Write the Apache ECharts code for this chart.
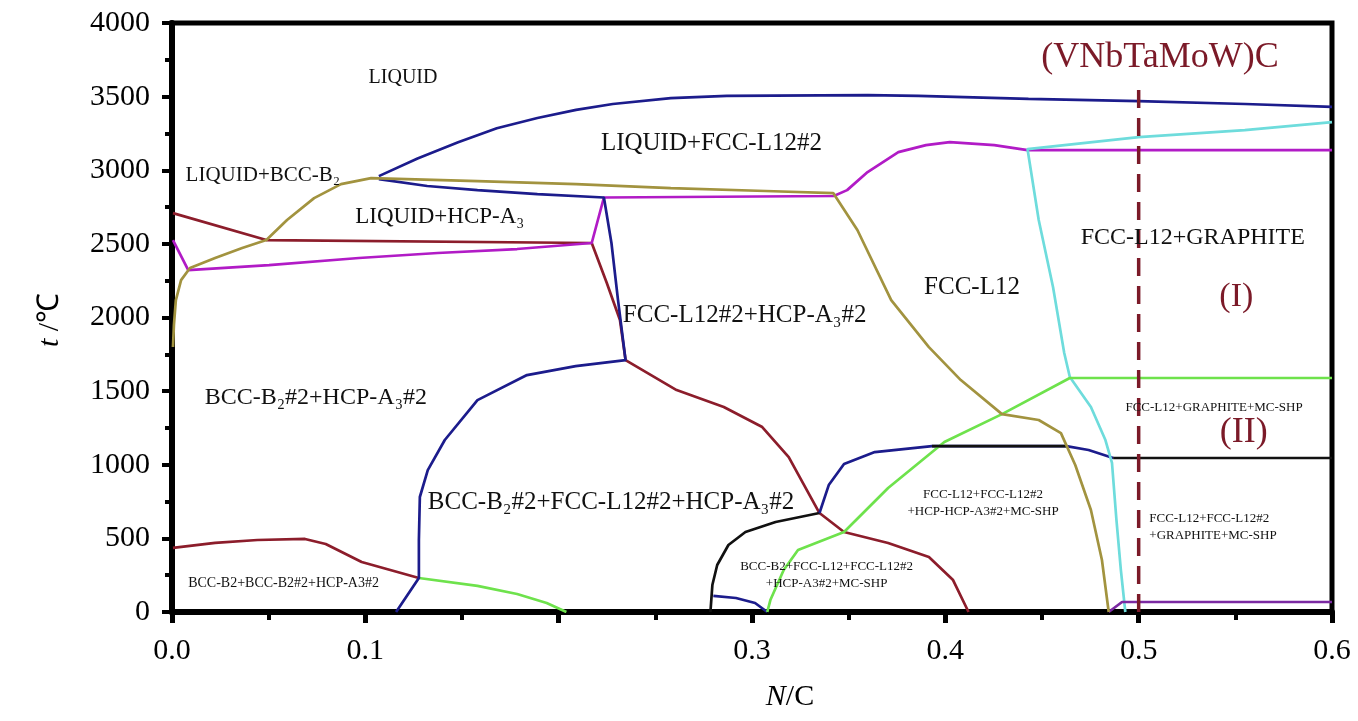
<!DOCTYPE html>
<html><head><meta charset="utf-8">
<script src="https://cdn.jsdelivr.net/npm/echarts@6/dist/echarts.min.js"></script>
<style>html,body{margin:0;padding:0;background:#fff}#c{width:1358px;height:721px}</style>
</head><body><div id="c"></div>
<script>
// ---- tick labels ----
const xTickLabels = ['0.0', '0.1', '', '0.3', '0.4', '0.5', '0.6'];
const yTickValues = [0, 500, 1000, 1500, 2000, 2500, 3000, 3500, 4000];

// ---- phase boundaries: [N/C, t(°C)] ----
const liquidusBlue = [[0.107,2960],[0.127,3080],[0.148,3190],[0.168,3285],[0.189,3355],[0.209,3410],[0.228,3450],[0.258,3490],[0.287,3505],[0.36,3510],[0.386,3505],[0.443,3485],[0.5,3470],[0.555,3450],[0.6,3430]];
const oliveLine = [[0.0005,1800],[0.001,1950],[0.002,2118],[0.0047,2254],[0.0093,2336],[0.0223,2404],[0.0363,2472],[0.0488,2526],[0.0595,2662],[0.0735,2811],[0.0874,2906],[0.103,2947],[0.158,2926],[0.209,2906],[0.258,2879],[0.307,2859],[0.342,2845],[0.3545,2594],[0.372,2118],[0.3915,1799],[0.408,1575],[0.4293,1344],[0.4483,1304],[0.4598,1215],[0.4672,998],[0.4753,693],[0.481,353],[0.4845,0]];
const blueArc = [[0.107,2940],[0.132,2893],[0.158,2865],[0.189,2838],[0.2234,2815],[0.2273,2506],[0.2307,2118],[0.2346,1711],[0.2088,1670],[0.1836,1609],[0.158,1439],[0.1411,1168],[0.1323,964],[0.1282,781],[0.1277,489],[0.1277,231],[0.1159,0]];
const magentaLine = [[0.0005,2526],[0.0084,2322],[0.0502,2356],[0.0967,2404],[0.1374,2438],[0.1785,2465],[0.2171,2506],[0.2234,2815],[0.3423,2825],[0.3492,2865],[0.3598,2988],[0.3757,3123],[0.39,3171],[0.4023,3191],[0.4253,3171],[0.4425,3137],[0.6,3137]];
const redUpper = [[0.0005,2709],[0.0488,2526],[0.2171,2506],[0.2249,2234],[0.2317,1983],[0.2346,1711],[0.261,1507],[0.2854,1392],[0.3053,1256],[0.319,1052],[0.3349,672],[0.3476,543],[0.3704,469],[0.3915,373],[0.404,217],[0.412,0]];
const redLower = [[0.0005,435],[0.0223,469],[0.0442,489],[0.0688,496],[0.0795,462],[0.0981,340],[0.1277,231]];
const greenLeft = [[0.1277,231],[0.158,177],[0.1785,122],[0.1938,61],[0.204,0]];
const blackBottom = [[0.2785,0],[0.2795,183],[0.282,319],[0.2878,455],[0.2966,543],[0.3122,611],[0.3349,672]];
const blueBottom = [[0.28,109],[0.2917,95],[0.3016,61],[0.3079,0]];
const greenMid = [[0.3079,0],[0.3095,81],[0.3164,285],[0.3238,421],[0.3476,543],[0.3704,842],[0.3995,1154],[0.4293,1344],[0.4644,1589],[0.6,1589]];
const blueRight = [[0.3349,672],[0.3397,862],[0.3476,1005],[0.3635,1086],[0.3931,1127],[0.4626,1127],[0.4741,1100],[0.4868,1046]];
const blackTie = [[0.3931,1127],[0.4626,1127]];
const blackRight = [[0.4868,1046],[0.6,1046]];
const cyanLine = [[0.6,3327],[0.5549,3273],[0.5,3225],[0.4425,3144],[0.4483,2662],[0.4557,2207],[0.4615,1759],[0.4644,1596],[0.4753,1392],[0.4828,1168],[0.4862,1012],[0.4885,625],[0.4908,285],[0.4931,0]];
const purpleLine = [[0.4845,0],[0.4914,68],[0.6,68]];
const compositionLine = [[0.5,0],[0.5,3590]];

// ---- region labels: text and anchor [N/C, t] ----
const regionTexts = ['LIQUID','LIQUID+BCC-B₂','LIQUID+FCC-L12#2','LIQUID+HCP-A₃','FCC-L12#2+HCP-A₃#2','FCC-L12','FCC-L12+GRAPHITE','(VNbTaMoW)C','(I)','(II)','FCC-L12+GRAPHITE+MC-SHP','BCC-B₂#2+HCP-A₃#2','BCC-B₂#2+FCC-L12#2+HCP-A₃#2','BCC-B2+BCC-B2#2+HCP-A3#2','BCC-B2+FCC-L12+FCC-L12#2\n+HCP-A3#2+MC-SHP','FCC-L12+FCC-L12#2\n+HCP-HCP-A3#2+MC-SHP','FCC-L12+FCC-L12#2\n+GRAPHITE+MC-SHP'];
const regionAnchors = [[0.1195,3626],[0.047,2967],[0.279,3185],[0.1385,2682],[0.2332,2017],[0.4138,2207],[0.528,2539],[0.511,3762],[0.5505,2139],[0.5544,1222],[0.539,1385],[0.0744,1453],[0.1323,747],[0.0577,197],[0.3386,251],[0.4195,740],[0.5055,577]];

// ---- styles (kept separate from data) ----
const FONT = "'Liberation Serif','Times New Roman',serif";
const labelSizes = [20,21,25,23,25,25,24,36,34,36,13,24,25,14,13,13,13];
const labelAlign = ['center','center','center','center','left','center','center','center','center','center','center','center','left','center','center','center','left'];
const darkRed = '#7b1a28';
const labelColor = i => (i >= 7 && i <= 9) ? darkRed : '#111111';

const C = {blue:'#1c1c8c', olive:'#a2933f', magenta:'#b11bc6', red:'#8c1d2b', green:'#6ee24c', black:'#111111', cyan:'#6edcdc', purple:'#7b2aa2'};

function ln(data, color, z, extra) {
  return Object.assign({type:'line', data:data, symbol:'none', showSymbol:false, silent:true,
    lineStyle:{color:color, width:2.7}, z:z || 3, animation:false}, extra || {});
}

const series = [
  ln(liquidusBlue, C.blue),
  ln(redUpper, C.red),
  ln(magentaLine, C.magenta),
  ln(blueArc, C.blue, 4),
  ln(oliveLine, C.olive, 5),
  ln(redLower, C.red),
  ln(greenLeft, C.green),
  ln(blackBottom, C.black),
  ln(blueBottom, C.blue),
  ln(greenMid, C.green, 4),
  ln(blueRight, C.blue),
  ln(blackTie, C.black, 4),
  ln(blackRight, C.black),
  ln(cyanLine, C.cyan),
  ln(purpleLine, C.purple),
  ln(compositionLine, darkRed, 6, {lineStyle:{color:darkRed, width:3.5, type:[18,10]}}),
  {
    type:'scatter', silent:true, animation:false, symbolSize:1, z:10,
    itemStyle:{color:'rgba(255,255,255,0)', opacity:1},
    data: regionTexts.map((t, i) => ({
      value: regionAnchors[i],
      label: {show:true, formatter:t, position:'inside', align:labelAlign[i], verticalAlign:'middle',
        fontFamily:FONT, fontSize:labelSizes[i], color:labelColor(i), opacity:1,
        textBorderWidth:0,
        lineHeight: labelSizes[i] < 16 ? 17 : labelSizes[i] + 4}
    }))
  }
];

const chart = echarts.init(document.getElementById('c'));
chart.setOption({
  animation:false,
  backgroundColor:'#ffffff',
  grid:{left:172, right:26, top:23, bottom:109, show:true, borderColor:'#000', borderWidth:5, containLabel:false, outerBoundsMode:'none'},
  xAxis:{
    type:'value', min:0, max:0.6, interval:0.1,
    axisLine:{show:true, onZero:false, lineStyle:{color:'#000', width:6}},
    axisTick:{show:true, length:11, lineStyle:{color:'#000', width:5}},
    minorTick:{show:true, splitNumber:2, length:8, lineStyle:{color:'#000', width:4}},
    splitLine:{show:false},
    axisLabel:{fontFamily:FONT, fontSize:30, color:'#000', margin:24,
      formatter: v => xTickLabels[Math.round(v * 10)] }
  },
  yAxis:{
    type:'value', min:yTickValues[0], max:yTickValues[yTickValues.length-1], interval:500,
    axisLine:{show:true, onZero:false, lineStyle:{color:'#000', width:6}},
    axisTick:{show:true, length:10, lineStyle:{color:'#000', width:4}},
    minorTick:{show:true, splitNumber:2, length:7, lineStyle:{color:'#000', width:4}},
    splitLine:{show:false},
    axisLabel:{fontFamily:FONT, fontSize:30, color:'#000', margin:22,
      formatter: v => String(yTickValues[Math.round(v / 500)]) }
  },
  graphic:[
    {type:'text', x:50, y:320, rotation:Math.PI/2, z:20,
      style:{text:'{i|t} /℃', fontFamily:FONT, fontSize:30, fill:'#000', align:'center', verticalAlign:'middle',
        rich:{i:{fontStyle:'italic', fontFamily:FONT, fontSize:30}}}},
    {type:'text', x:790, y:697, z:20,
      style:{text:'{i|N}/C', fontFamily:FONT, fontSize:30, fill:'#000', align:'center', verticalAlign:'middle',
        rich:{i:{fontStyle:'italic', fontFamily:FONT, fontSize:30}}}}
  ],
  series: series
});
</script></body></html>
